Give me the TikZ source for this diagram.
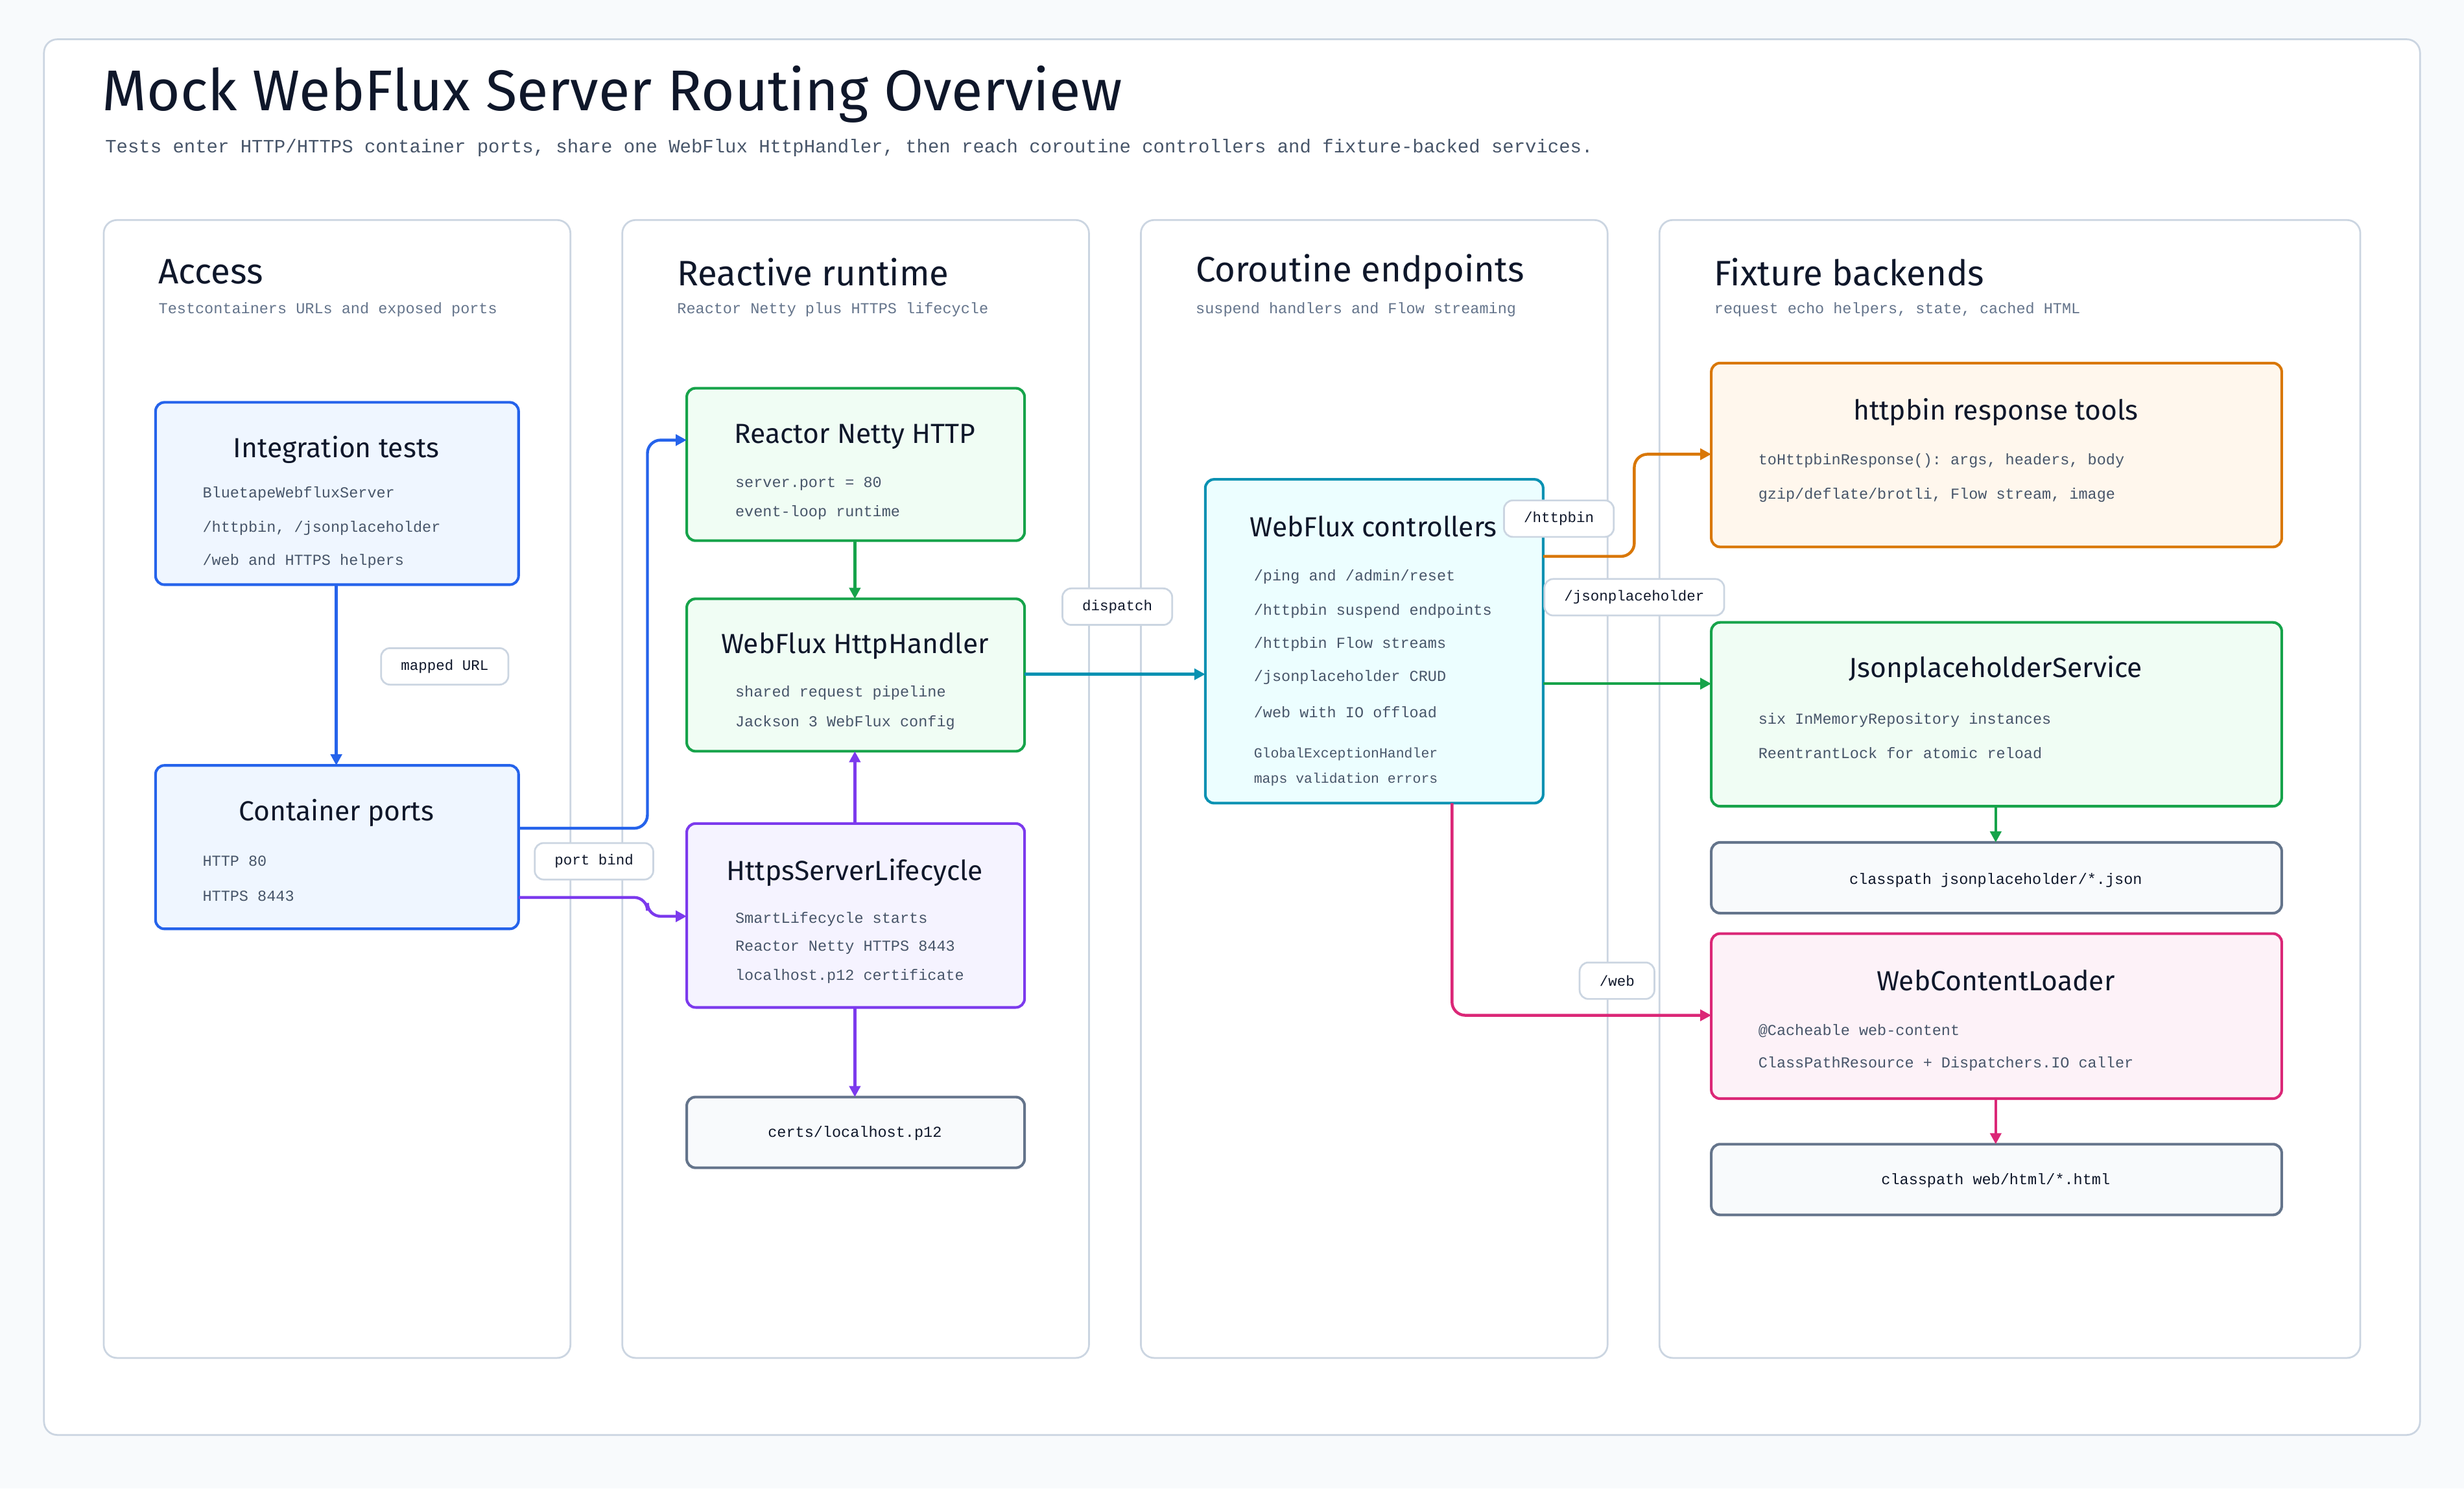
\documentclass[tikz,border=0pt]{standalone}
\usepackage{fontspec}
\setmainfont{Fira Sans}
\setmonofont{Liberation Mono}
\usepackage{tikz}
\usetikzlibrary{arrows.meta}
\definecolor{bg}{HTML}{F8FAFC}
\definecolor{edge}{HTML}{CBD5E1}
\definecolor{ink}{HTML}{0F172A}
\definecolor{sub}{HTML}{475569}
\definecolor{cblue}{HTML}{2563EB}\definecolor{fblue}{HTML}{EFF6FF}
\definecolor{cgreen}{HTML}{16A34A}\definecolor{fgreen}{HTML}{F0FDF4}
\definecolor{cpurple}{HTML}{7C3AED}\definecolor{fpurple}{HTML}{F5F3FF}
\definecolor{ccyan}{HTML}{0891B2}\definecolor{fcyan}{HTML}{ECFEFF}
\definecolor{corange}{HTML}{D97706}\definecolor{forange}{HTML}{FFF7ED}
\definecolor{cpink}{HTML}{DB2777}\definecolor{fpink}{HTML}{FDF2F8}
\definecolor{cgray}{HTML}{64748B}
\tikzset{
  lane/.style={draw=edge, fill=white, rounded corners=6pt, line width=0.8pt},
  box/.style={rounded corners=4pt, line width=1.2pt},
  ttl/.style={anchor=center, font=\fontsize{12.5}{14}\selectfont, text=ink},
  txt/.style={anchor=west, font=\ttfamily\fontsize{6.9}{8}\selectfont, text=sub},
  lanettl/.style={anchor=west, font=\fontsize{16}{18}\selectfont, text=ink},
  lanesub/.style={anchor=west, font=\ttfamily\fontsize{6.9}{8}\selectfont, text=cgray},
  tag/.style={draw=edge, fill=white, rounded corners=4pt, line width=0.8pt, inner xsep=9pt,
    inner ysep=3pt, minimum height=0.58cm, font=\ttfamily\fontsize{6.6}{8}\selectfont, text=ink},
  flow/.style={line width=1.3pt, rounded corners=6pt, -{Triangle[length=5pt,width=5pt]}},
}
\begin{document}
\begin{tikzpicture}[x=0.025cm, y=-0.025cm]
\fill[bg] (0,0) rectangle (1568,947);
\useasboundingbox (0,0) rectangle (1568,947);
\draw[lane] (28,25) rectangle (1540,913);
\node[anchor=west, font=\fontsize{26}{30}\selectfont, text=ink] (title) at (60,60) {Mock WebFlux Server Routing Overview};
\node[anchor=west, font=\ttfamily\fontsize{8.5}{10}\selectfont, text=sub] (subtitle) at (62,94) {Tests enter HTTP/HTTPS container ports, share one WebFlux HttpHandler, then reach coroutine controllers and fixture-backed services.};
% lanes
\draw[lane] (66,140) rectangle (363,864);
\draw[lane] (396,140) rectangle (693,864);
\draw[lane] (726,140) rectangle (1023,864);
\draw[lane] (1056,140) rectangle (1502,864);
\node[lanettl] at (96,173) {Access};
\node[lanesub] at (96,197) {Testcontainers URLs and exposed ports};
\node[lanettl] at (426,173) {Reactive runtime};
\node[lanesub] at (426,197) {Reactor Netty plus HTTPS lifecycle};
\node[lanettl] at (756,173) {Coroutine endpoints};
\node[lanesub] at (756,197) {suspend handlers and Flow streaming};
\node[lanettl] at (1086,173) {Fixture backends};
\node[lanesub] at (1086,197) {request echo helpers, state, cached HTML};
% access
\draw[box, draw=cblue, fill=fblue] (99,256) rectangle (330,372);
\node[ttl] at (214,286) {Integration tests};
\node[txt] at (124,314) {BluetapeWebfluxServer};
\node[txt] at (124,336) {/httpbin, /jsonplaceholder};
\node[txt] at (124,357) {/web and HTTPS helpers};
\draw[box, draw=cblue, fill=fblue] (99,487) rectangle (330,591);
\node[ttl] at (214,517) {Container ports};
\node[txt] at (124,548) {HTTP 80};
\node[txt] at (124,570) {HTTPS 8443};
% runtime
\draw[box, draw=cgreen, fill=fgreen] (437,247) rectangle (652,344);
\node[ttl] at (544,278) {Reactor Netty HTTP};
\node[txt] at (463,308) {server.port = 80};
\node[txt] at (463,326) {event-loop runtime};
\draw[box, draw=cgreen, fill=fgreen] (437,381) rectangle (652,478);
\node[ttl] at (544,411) {WebFlux HttpHandler};
\node[txt] at (463,441) {shared request pipeline};
\node[txt] at (463,460) {Jackson 3 WebFlux config};
\draw[box, draw=cpurple, fill=fpurple] (437,524) rectangle (652,641);
\node[ttl] at (544,555) {HttpsServerLifecycle};
\node[txt] at (463,585) {SmartLifecycle starts};
\node[txt] at (463,603) {Reactor Netty HTTPS 8443};
\node[txt] at (463,621) {localhost.p12 certificate};
\draw[box, draw=cgray, fill=bg] (437,698) rectangle (652,743);
\node[txt, anchor=center, text=ink] at (544,721) {certs/localhost.p12};
% controllers
\draw[box, draw=ccyan, fill=fcyan] (767,305) rectangle (982,511);
\node[ttl] at (874,335) {WebFlux controllers};
\node[txt] at (793,367) {/ping and /admin/reset};
\node[txt] at (793,389) {/httpbin suspend endpoints};
\node[txt] at (793,410) {/httpbin Flow streams};
\node[txt] at (793,431) {/jsonplaceholder CRUD};
\node[txt] at (793,453) {/web with IO offload};
\node[txt, font=\ttfamily\fontsize{6.3}{8}\selectfont] at (793,480) {GlobalExceptionHandler};
\node[txt, font=\ttfamily\fontsize{6.3}{8}\selectfont] at (793,496) {maps validation errors};
% fixtures
\draw[box, draw=corange, fill=forange] (1089,231) rectangle (1452,348);
\node[ttl] at (1270,262) {httpbin response tools};
\node[txt] at (1114,293) {toHttpbinResponse(): args, headers, body};
\node[txt] at (1114,315) {gzip/deflate/brotli, Flow stream, image};
\draw[box, draw=cgreen, fill=fgreen] (1089,396) rectangle (1452,513);
\node[ttl] at (1270,426) {JsonplaceholderService};
\node[txt] at (1114,458) {six InMemoryRepository instances};
\node[txt] at (1114,479) {ReentrantLock for atomic reload};
\draw[box, draw=cgray, fill=bg] (1089,536) rectangle (1452,581);
\node[txt, anchor=center, text=ink] at (1270,560) {classpath jsonplaceholder/*.json};
\draw[box, draw=cpink, fill=fpink] (1089,594) rectangle (1452,699);
\node[ttl] at (1270,624) {WebContentLoader};
\node[txt] at (1114,656) {@Cacheable web-content};
\node[txt] at (1114,677) {ClassPathResource + Dispatchers.IO caller};
\draw[box, draw=cgray, fill=bg] (1089,728) rectangle (1452,773);
\node[txt, anchor=center, text=ink] at (1270,751) {classpath web/html/*.html};
% connectors
\draw[flow, cblue] (214,372) -- (214,487);
\draw[flow, cblue] (330,527) -- (412,527) -- (412,280) -- (437,280);
\draw[flow, cpurple] (330,571) -- (412,571) -- (412,583) -- (437,583);
\draw[flow, cgreen] (544,344) -- (544,381);
\draw[flow, cpurple] (544,524) -- (544,478);
\draw[flow, cpurple] (544,641) -- (544,698);
\draw[flow, ccyan] (652,429) -- (767,429);
\draw[flow, corange] (982,354) -- (1040,354) -- (1040,289) -- (1089,289);
\draw[flow, cgreen] (982,435) -- (1089,435);
\draw[flow, cpink] (924,511) -- (924,646) -- (1089,646);
\draw[flow, cgreen] (1270,513) -- (1270,536);
\draw[flow, cpink] (1270,699) -- (1270,728);
% labels
\node[tag] at (283,424) {mapped URL};
\node[tag] at (378,548) {port bind};
\node[tag] at (711,386) {dispatch};
\node[tag] at (992,330) {/httpbin};
\node[tag] at (1040,380) {/jsonplaceholder};
\node[tag] at (1029,624) {/web};
\end{tikzpicture}
\end{document}
